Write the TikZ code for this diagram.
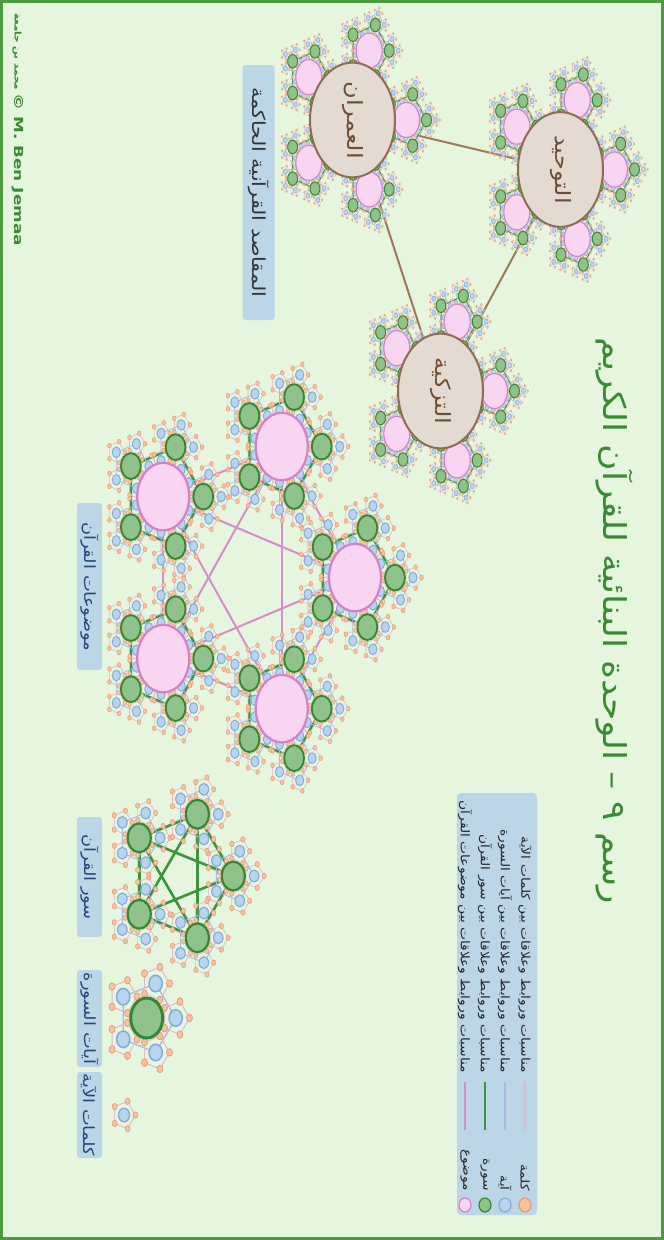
\documentclass[tikz,border=0pt]{standalone}
\usepackage{fontspec}
\setmainfont{DejaVu Sans}
\newfontfamily\arabicfont[Script=Arabic,FakeStretch=1.15]{DejaVu Sans}
\newfontfamily\creditfont[FakeStretch=1.35]{DejaVu Sans}
\TeXXeTstate=1
\usetikzlibrary{shapes.geometric}
\definecolor{paper}{HTML}{E6F5DE}
\definecolor{framegreen}{HTML}{4E9A3E}
\definecolor{titlegreen}{HTML}{3A8A34}
\definecolor{tagfill}{HTML}{BCD6E8}
\definecolor{tagtext}{HTML}{23467A}
\definecolor{wordfill}{HTML}{F7C29E}
\definecolor{wordedge}{HTML}{E8977C}
\definecolor{wordline}{HTML}{E2B6CE}
\definecolor{ayahfill}{HTML}{B9D4EE}
\definecolor{ayahedge}{HTML}{84ACDA}
\definecolor{ayahline}{HTML}{9CC0E4}
\definecolor{surahfill}{HTML}{90C28B}
\definecolor{surahedge}{HTML}{2F8A35}
\definecolor{surahline}{HTML}{3B963B}
\definecolor{topicfill}{HTML}{F8D5F0}
\definecolor{topicedge}{HTML}{D77FCB}
\definecolor{topicline}{HTML}{D98BCB}
\definecolor{purposefill}{HTML}{E3DAD1}
\definecolor{purposeedge}{HTML}{8E6D52}
\definecolor{purposeline}{HTML}{9B7B5B}
\definecolor{purposetext}{HTML}{6E4E34}

\tikzset{
  wordpt/.style={fill=wordfill,draw=wordedge},
  ayahpt/.style={fill=ayahfill,draw=ayahedge},
  surahpt/.style={fill=surahfill,draw=surahedge},
  topicpt/.style={fill=topicfill,draw=topicedge},
  purposept/.style={fill=purposefill,draw=purposeedge,line width=2pt},
  wordlink/.style={draw=wordline},
  ayahlink/.style={draw=ayahline},
  surahlink/.style={draw=surahline},
  topiclink/.style={draw=topicline,line width=2pt},
  purposelink/.style={draw=purposeline,line width=2pt},
  purposelabel/.style={rotate=-90,text=purposetext,font=\arabicfont\fontsize{21}{24}\selectfont},
  tagbox/.style={fill=tagfill,rounded corners=3pt,rotate=-90,text=tagtext,inner sep=0pt,
    minimum height=25pt,font=\arabicfont\fontsize{15.5}{18}\selectfont},
  legendtext/.style={rotate=-90,inner sep=0pt,text=black!85,font=\arabicfont\fontsize{12}{14}\selectfont},
  legendkey/.style={ellipse,rotate=-90,minimum width=14pt,minimum height=12pt,inner sep=0pt,line width=1.2pt},
}

\newcommand{\clscale}{1}
% one verse: five words round a blue core
\newcommand{\ayahunit}[3]{%
  \begin{scope}[shift={#2},scale=#3]
    \pgfmathsetmacro\clscale{\clscale*#3}%
    \pgfmathsetmacro\lwlink{0.8*\clscale}%
    \pgfmathsetmacro\lwedge{0.6*\clscale}%
    \pgfmathsetmacro\lwcore{1.3*\clscale}%
    \coordinate (#1) at (0,0);
    \foreach \wn in {1,...,5}
      \coordinate (#1-\wn) at ({72*(\wn-1)}:11.5);
    \draw[wordlink,line width=\lwlink pt] (#1-1) -- (#1-2) -- (#1-3) -- (#1-4) -- (#1-5) -- cycle;
    \foreach \wn in {1,...,5}
      \filldraw[wordpt,line width=\lwedge pt] (#1-\wn) circle (2.5);
    \filldraw[ayahpt,line width=\lwcore pt] (#1) circle (5.5);
  \end{scope}}
% one sura: five verses round a green core
\newcommand{\surahunit}[3]{%
  \begin{scope}[shift={#2},scale=#3]
    \pgfmathsetmacro\clscale{\clscale*#3}%
    \pgfmathsetmacro\lwlink{1.3*\clscale}%
    \pgfmathsetmacro\lwcore{3*\clscale}%
    \coordinate (#1) at (0,0);
    \foreach \an in {1,...,5}
      \coordinate (#1-\an) at ({72*(\an-1)}:29);
    \draw[ayahlink,line width=\lwlink pt] (#1-1) -- (#1-2) -- (#1-3) -- (#1-4) -- (#1-5) -- cycle;
    \foreach \an in {1,...,5}{\ayahunit{#1-\an}{({72*(\an-1)}:29)}{1.2}}
    \filldraw[surahpt,line width=\lwcore pt] (#1) circle (16);
  \end{scope}}
% one topic: five suras round a pink core
\newcommand{\topicunit}[3]{%
  \begin{scope}[shift={#2},scale=#3]
    \pgfmathsetmacro\clscale{\clscale*#3}%
    \pgfmathsetmacro\lwlink{2.4*\clscale}%
    \pgfmathsetmacro\lwcore{2.2*\clscale}%
    \coordinate (#1) at (0,0);
    \foreach \sn in {1,...,5}
      \coordinate (#1-\sn) at ({72*(\sn-1)}:40);
    \draw[surahlink,line width=\lwlink pt] (#1-1) -- (#1-2) -- (#1-3) -- (#1-4) -- (#1-5) -- cycle;
    \foreach \sn in {1,...,5}{\surahunit{#1-\sn}{({72*(\sn-1)}:40)}{0.62}}
    \filldraw[topicpt,line width=\lwcore pt] (#1) circle (26);
  \end{scope}}

\begin{document}
\begin{tikzpicture}[x=1pt,y=-1pt]
  \useasboundingbox (0,0) rectangle (664,1240);
  \fill[paper] (0,0) rectangle (664,1240);
  \draw[framegreen,line width=3pt] (1.5,1.5) rectangle (662.5,1238.5);

  % governing purposes
  \coordinate (tawhid) at (560.5,169.5);
  \coordinate (omran) at (352.5,120);
  \coordinate (tazkiya) at (440.5,391);
  \draw[purposelink] (tawhid) -- (omran) -- (tazkiya) -- (tawhid);
  \foreach \pname/\ptext in {tawhid/التوحيد,omran/العمران,tazkiya/التزكية}{
    \begin{scope}[shift={(\pname)},yscale=1.35]
      \foreach \tn in {1,...,5}{\topicunit{\pname-\tn}{({72*(\tn-1)}:54)}{0.5}}
      \filldraw[purposept] (\pname) circle (42.5);
    \end{scope}
    \node[purposelabel] (\pname-label) at (\pname) {\beginR\ptext\endR};
  }

  % topics of the Quran
  \begin{scope}[shift={(249,577.6)},yscale=1.3]
    \foreach \kn in {1,...,5}
      \coordinate (topic\kn) at ({72*(\kn-1)}:106);
    \foreach \kn/\km in {1/2,1/3,1/4,1/5,2/3,2/4,2/5,3/4,3/5,4/5}
      \draw[topiclink] (topic\kn) -- (topic\km);
    \foreach \kn in {1,...,5}{\topicunit{topic\kn}{({72*(\kn-1)}:106)}{1}}
  \end{scope}

  % suras of the Quran
  \begin{scope}[shift={(181.3,876)},yscale=1.25]
    \foreach \kn in {1,...,5}
      \coordinate (sura\kn) at ({72*(\kn-1)}:52);
    \foreach \kn/\km in {1/2,1/3,1/4,1/5,2/3,2/4,2/5,3/4,3/5,4/5}
      \draw[surahlink,line width=2.6pt] (sura\kn) -- (sura\km);
    \foreach \kn in {1,...,5}{\surahunit{sura\kn}{({72*(\kn-1)}:52)}{0.72}}
  \end{scope}

  % verses of one sura, words of one verse
  \begin{scope}[shift={(146.7,1018)},yscale=1.25]
    \surahunit{lone}{(0,0)}{1}
  \end{scope}
  \begin{scope}[shift={(124,1115)},yscale=1.25]
    \ayahunit{single}{(0,0)}{1}
  \end{scope}

  % captions
  \node[tagbox,minimum width=255pt,minimum height=32pt,text=black!80,
    font=\arabicfont\fontsize{18}{21}\selectfont] (purpose-tag) at (258.5,192.5)
    {\beginR المقاصد القرآنية الحاكمة\endR};
  \node[tagbox,minimum width=167pt] (topic-tag) at (89.5,586.5) {\beginR موضوعات القرآن\endR};
  \node[tagbox,minimum width=120pt] (sura-tag) at (89.5,877) {\beginR سور القرآن\endR};
  \node[tagbox,minimum width=97pt] (ayah-tag) at (89.5,1018.5) {\beginR آيات السورة\endR};
  \node[tagbox,minimum width=86pt] (word-tag) at (89.5,1115) {\beginR كلمات الآية\endR};

  % legend
  \node[fill=tagfill,rounded corners=4pt,rotate=-90,minimum width=422pt,minimum height=80pt]
    (legend) at (497,1004) {};
  \foreach \ln/\lx/\lfill/\ledge/\lline/\lname/\ltext in {
      1/525/wordfill/wordedge/wordline/كلمة/مناسبات وروابط وعلاقات بين كلمات الآية,
      2/505/ayahfill/ayahedge/ayahline/آية/مناسبات وروابط وعلاقات بين آيات السورة,
      3/485/surahfill/surahedge/surahline/سورة/مناسبات وروابط وعلاقات بين سور القرآن,
      4/465/topicfill/topicedge/topicline/موضوع/مناسبات وروابط وعلاقات بين موضوعات القرآن}{
    \node[legendtext,anchor=east] (row\ln-text) at (\lx,1073) {\beginR\ltext\endR};
    \coordinate (row\ln-a) at (\lx,1082);
    \coordinate (row\ln-b) at (\lx,1130);
    \draw[draw=\lline,line width=2pt] (row\ln-a) -- (row\ln-b);
    \node[legendtext,anchor=east] (row\ln-name) at (\lx,1191) {\beginR\lname\endR};
    \node[legendkey,fill=\lfill,draw=\ledge] (row\ln-key) at (\lx,1205) {};
  }

  % title and credit
  \node[rotate=-90,text=titlegreen,font=\arabicfont\fontsize{31.5}{36}\selectfont] (title)
    at (614,621) {\beginR رسم ٩ – الوحدة البنائية للقرآن الكريم\endR};
  \node[rotate=-90,anchor=west,inner sep=0pt,text=titlegreen,font=\bfseries]
    (credit) at (18,13) {{\arabicfont\fontsize{9}{11}\selectfont\beginR محمد بن جامعة\endR}
    {\creditfont\fontsize{12.5}{14}\selectfont © M. Ben Jemaa}};
\end{tikzpicture}
\end{document}
